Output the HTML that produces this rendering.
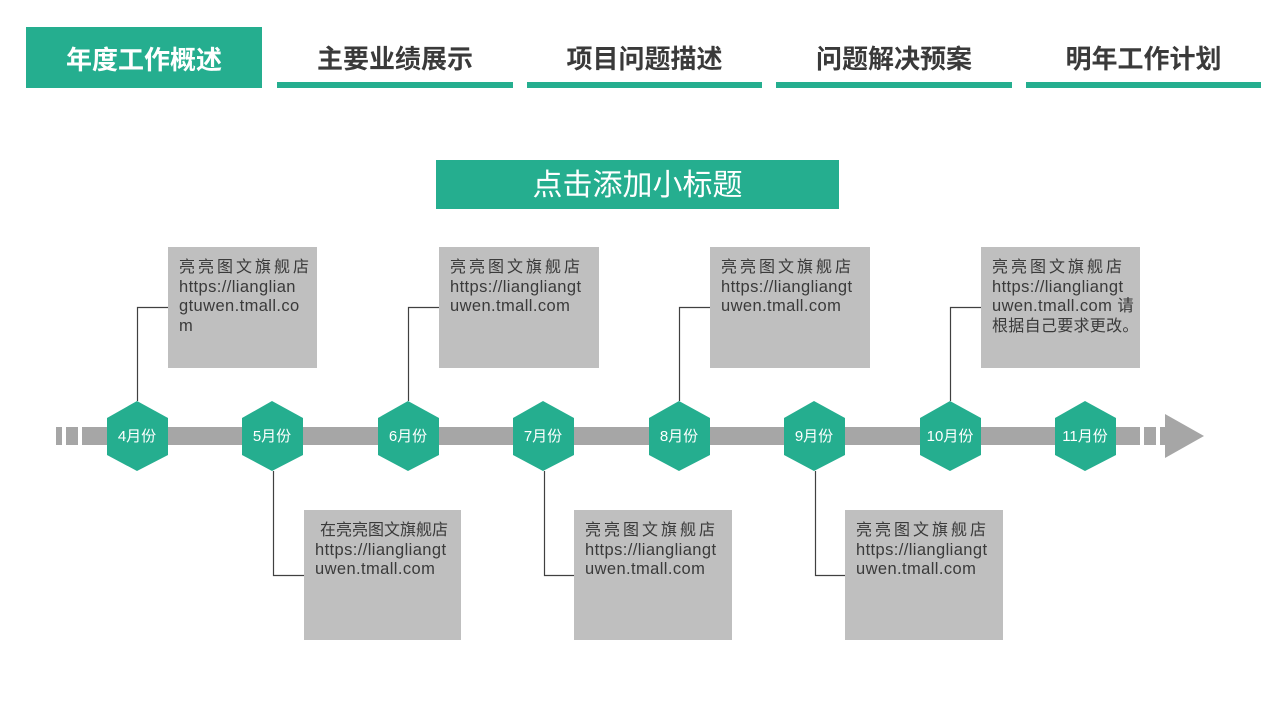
<!DOCTYPE html>
<html><head><meta charset="utf-8"><style>
*{margin:0;padding:0;box-sizing:border-box}
body{width:1280px;height:720px;background:#fff;position:relative;overflow:hidden;font-family:"Liberation Sans","Noto Sans CJK SC",sans-serif}
.a{position:absolute}
.tab{position:absolute;top:27px;height:61px;font-size:26px;font-weight:bold;color:#3a3a3a;text-align:center;line-height:64px;}
.tab.u{border-bottom:6px solid #25ae8f;line-height:64px}
.box{position:absolute;background:#bfbfbf;color:#3a3a3a;font-size:16.5px;line-height:19.5px;padding:11px 0 0 11px;word-break:break-all;letter-spacing:0.4px;white-space:nowrap}
.ls{letter-spacing:3px;font-size:16px}
</style></head><body>
<div class="tab" style="left:26px;width:236px;background:#25ae8f;color:#fff;line-height:66px">年度工作概述</div>
<div class="tab u" style="left:277px;width:236px">主要业绩展示</div>
<div class="tab u" style="left:527px;width:235px">项目问题描述</div>
<div class="tab u" style="left:776px;width:236px">问题解决预案</div>
<div class="tab u" style="left:1026px;width:235px">明年工作计划</div>
<div class="a" style="left:436px;top:160px;width:403px;height:49px;background:#25ae8f;color:#fff;font-size:30px;text-align:center;line-height:52px">点击添加小标题</div>

<svg class="a" style="left:0;top:0" width="1280" height="720">
<g fill="#a6a6a6">
<rect x="56" y="427" width="6" height="18"/><rect x="66" y="427" width="12" height="18"/><rect x="82" y="427" width="1040" height="18"/>
<rect x="1120" y="427" width="20" height="18"/><rect x="1144" y="427" width="12" height="18"/><rect x="1160" y="427" width="6" height="18"/>
<polygon points="1165,414 1204,436 1165,458"/>
</g>
<g stroke="#404040" stroke-width="1.2" fill="none">
<polyline points="137.5,401 137.5,307.5 168,307.5"/>
<polyline points="408.5,401 408.5,307.5 439,307.5"/>
<polyline points="679.5,401 679.5,307.5 710,307.5"/>
<polyline points="950.5,401 950.5,307.5 981,307.5"/>
<polyline points="273.5,471 273.5,575.5 304,575.5"/>
<polyline points="544.5,471 544.5,575.5 574,575.5"/>
<polyline points="815.5,471 815.5,575.5 845,575.5"/>
</g>
<g fill="#25ae8f">
<polygon points="137,401 168,418 168,455 137,471 107,455 107,418"/>
<polygon points="272,401 303,418 303,455 272,471 242,455 242,418"/>
<polygon points="408,401 439,418 439,455 408,471 378,455 378,418"/>
<polygon points="543,401 574,418 574,455 543,471 513,455 513,418"/>
<polygon points="679,401 710,418 710,455 679,471 649,455 649,418"/>
<polygon points="814,401 845,418 845,455 814,471 784,455 784,418"/>
<polygon points="950,401 981,418 981,455 950,471 920,455 920,418"/>
<polygon points="1085,401 1116,418 1116,455 1085,471 1055,455 1055,418"/>
</g>
<g fill="#fff" font-size="15" text-anchor="middle" font-family="Liberation Sans,Noto Sans CJK SC,sans-serif">
<text x="137" y="441">4月份</text><text x="272" y="441">5月份</text><text x="408" y="441">6月份</text><text x="543" y="441">7月份</text>
<text x="679" y="441">8月份</text><text x="814" y="441">9月份</text><text x="950" y="441">10月份</text><text x="1085" y="441">11月份</text>
</g>
</svg>

<div class="box" style="left:168px;top:247px;width:149px;height:121px"><span class="ls">亮亮图文旗舰店</span><br>https://lianglian<br>gtuwen.tmall.co<br>m</div>
<div class="box" style="left:439px;top:247px;width:160px;height:121px"><span class="ls">亮亮图文旗舰店</span><br>https://liangliangt<br>uwen.tmall.com</div>
<div class="box" style="left:710px;top:247px;width:160px;height:121px"><span class="ls">亮亮图文旗舰店</span><br>https://liangliangt<br>uwen.tmall.com</div>
<div class="box" style="left:981px;top:247px;width:159px;height:121px"><span class="ls">亮亮图文旗舰店</span><br>https://liangliangt<br>uwen.tmall.com 请<br><span style="font-size:16px;letter-spacing:0.3px">根据自己要求更改。</span></div>
<div class="box" style="left:304px;top:510px;width:157px;height:130px">&nbsp;<span style="font-size:16px;letter-spacing:0px">在亮亮图文旗舰店</span><br>https://liangliangt<br>uwen.tmall.com</div>
<div class="box" style="left:574px;top:510px;width:158px;height:130px"><span class="ls">亮亮图文旗舰店</span><br>https://liangliangt<br>uwen.tmall.com</div>
<div class="box" style="left:845px;top:510px;width:158px;height:130px"><span class="ls">亮亮图文旗舰店</span><br>https://liangliangt<br>uwen.tmall.com</div>
</body></html>
